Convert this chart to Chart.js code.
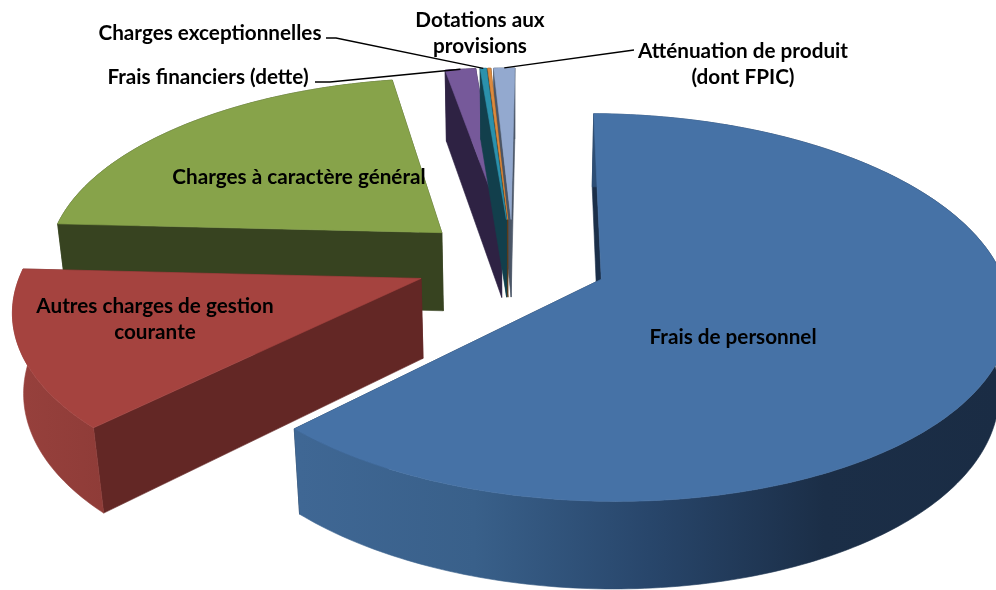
<!DOCTYPE html>
<html lang="fr">
<head>
<meta charset="utf-8">
<title>Dépenses de fonctionnement</title>
<script src="https://cdn.jsdelivr.net/npm/chart.js@4"></script>
<style>
html,body{margin:0;padding:0;background:#fff;}
canvas{display:block;}
</style>
</head>
<body>
<canvas id="c" width="996" height="590"></canvas>
<script>
// --- data ---
const categories = ["Frais de personnel","Autres charges de gestion courante","Charges à caractère général","Frais financiers (dette)","Charges exceptionnelles","Dotations aux provisions","Atténuation de produit (dont FPIC)"];
const values = [62.3, 13.3, 21.45, 1.45, 0.3, 0.15, 1.0];

// --- style ---
const topColors  = ["#4672A6","#A5433F","#87A34A","#76599A","#2B91AC","#DB8A3E","#93A9CF"];
const wallColors = ["#1B2F49","#632725","#374320","#2E2243","#123F4C","#5E3A18","#4A5566"];
const rimColors  = [["#3F6794","#39608A","#28466B","#1B2E47","#1A2C44"],["#96403C","#8F3C38"],["#374320","#374320"],["#2E2243","#2E2243"],["#123F4C","#123F4C"],["#5E3A18","#5E3A18"],["#4A5566","#4A5566"]];
const explodeBy  = [0.238,0.245,0.245,0.238,0.238,0.238,0.238];
const paintOrder = [2,3,6,5,4,1,0];
const labelFont = 'bold 20.7px "Lato", sans-serif';
const labelLayout = [
  {lines:["Frais de personnel"], x:733, y:337},
  {lines:["Autres charges de gestion","courante"], x:155, y:306},
  {lines:["Charges à caractère général"], x:299, y:177},
  {lines:["Frais financiers (dette)"], x:208, y:77, from:[315,82], via:[330,82]},
  {lines:["Charges exceptionnelles"], x:210, y:33, from:[326,38], via:[336,38]},
  {lines:["Dotations aux","provisions"], x:480, y:20},
  {lines:["Atténuation de produit","(dont FPIC)"], x:743, y:51, from:[634,50]}
];
// projection of the pie plane
const cam = {cx:513, cy:262, a:397, b:184.7, c:81, q:0.144, r:0.022};

function project(x, z, h){
  const w = 1 - cam.q*z + cam.r*h;
  return [cam.cx + cam.a*x/w, cam.cy + (cam.b*z + cam.c*h)/w];
}
function poly(ctx, pts, fill){
  ctx.beginPath();
  pts.forEach((p,i)=> i ? ctx.lineTo(p[0],p[1]) : ctx.moveTo(p[0],p[1]));
  ctx.closePath();
  ctx.fillStyle = fill; ctx.strokeStyle = fill; ctx.lineWidth = 0.6;
  ctx.fill(); ctx.stroke();
}
const pie3d = {
  id:'pie3d',
  beforeDatasetsDraw(chart){
    const ctx = chart.ctx, arcs = chart.getDatasetMeta(0).data;
    const geo = arcs.map((arc,idx)=>{
      const s = arc.startAngle + Math.PI/2, e = arc.endAngle + Math.PI/2, m = (s+e)/2;
      const ox = explodeBy[idx]*Math.sin(m), oz = -explodeBy[idx]*Math.cos(m);
      const n = Math.max(2, Math.ceil((e-s)/(Math.PI/180)));
      const rim = [];
      for(let i=0;i<=n;i++){ const t = s+(e-s)*i/n; rim.push([ox+Math.sin(t), oz-Math.cos(t)]); }
      return {ox,oz,rim,m};
    });
    ctx.save();
    paintOrder.forEach(i=>{
      const g = geo[i], rim = g.rim, L = rim.length-1;
      const T = (p,h)=>project(p[0],p[1],h), A=[g.ox,g.oz];
      poly(ctx,[T(A,0),T(rim[L],0),T(rim[L],1),T(A,1)],wallColors[i]);
      poly(ctx,[T(A,0),T(rim[0],0),T(rim[0],1),T(A,1)],wallColors[i]);
      const top = rim.map(p=>T(p,0)), bot = rim.map(p=>T(p,1));
      const xs = bot.map(p=>p[0]), x0 = Math.min(...xs), x1 = Math.max(...xs);
      const grad = ctx.createLinearGradient(x0,0,x1,0);
      rimColors[i].forEach((col,k,arr)=>grad.addColorStop(k/(arr.length-1),col));
      poly(ctx,top.concat(bot.slice().reverse()),grad);
      poly(ctx,[T(A,0)].concat(top),topColors[i]);
    });
    // labels and leader lines
    ctx.textAlign='center'; ctx.textBaseline='middle'; ctx.fillStyle='#000'; ctx.font=labelFont;
    labelLayout.forEach((l,i)=>{
      l.lines.forEach((t,k)=>ctx.fillText(t,l.x,l.y+k*26.5));
      if(l.from){
        const g = geo[i], mid = project(g.ox+Math.sin(g.m), g.oz-Math.cos(g.m), 0);
        ctx.beginPath(); ctx.moveTo(l.from[0],l.from[1]);
        if(l.via) ctx.lineTo(l.via[0],l.via[1]);
        ctx.lineTo(mid[0],mid[1]);
        ctx.strokeStyle='#000'; ctx.lineWidth=1.3; ctx.stroke();
      }
    });
    ctx.restore();
    return false;
  }
};
new Chart(document.getElementById('c'),{
  type:'pie',
  data:{labels:categories,datasets:[{data:values,backgroundColor:topColors}]},
  options:{responsive:false,animation:false,rotation:0.6,
    plugins:{legend:{display:false},tooltip:{enabled:false}}},
  plugins:[pie3d]
});
</script>
</body>
</html>
